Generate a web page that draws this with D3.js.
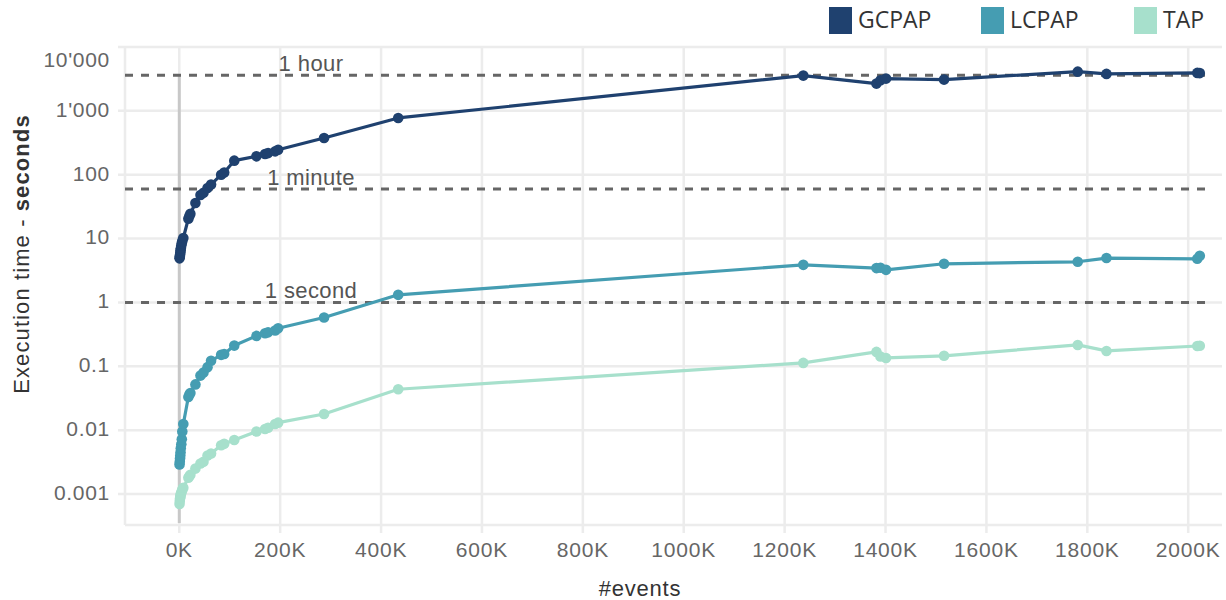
<!DOCTYPE html>
<html>
<head>
<meta charset="utf-8">
<script src="https://cdn.jsdelivr.net/npm/d3@7/dist/d3.min.js"></script>
<style>
  html, body { margin: 0; padding: 0; background: #ffffff; }
  svg { display: block; }
</style>
</head>
<body>
<svg id="chart" width="1226" height="600"></svg>
<script>
// Number of events per run (shared by all three algorithms)
const events = [500, 1000, 1500, 2000, 2500, 3000, 4000, 5000, 6000, 8000,
  18000, 20000, 22000, 32000, 42000, 48000, 56000, 63000, 83000, 89000,
  109000, 153000, 170000, 176000, 190000, 196000, 287000, 434000,
  1237000, 1382000, 1390000, 1401000, 1516000, 1781000, 1838000, 2018000, 2023000];

// Execution time in seconds
const gcpap = [4.9, 5.2, 5.6, 6.0, 6.5, 7.0, 7.8, 8.5, 9.2, 10.2,
  20.5, 22.5, 24.5, 36, 48, 52, 62, 70, 100, 108,
  166, 194, 211, 218, 232, 246, 376, 775,
  3565, 2670, 3010, 3200, 3085, 4110, 3790, 3930, 3900];

const lcpap = [0.0029, 0.0032, 0.0036, 0.0040, 0.0045, 0.0052, 0.006, 0.0072, 0.0095, 0.0125,
  0.033, 0.036, 0.038, 0.052, 0.0715, 0.08, 0.097, 0.122, 0.151, 0.156,
  0.211, 0.299, 0.33, 0.34, 0.363, 0.395, 0.58, 1.315,
  3.88, 3.45, 3.5, 3.24, 4.03, 4.33, 4.95, 4.82, 5.37];

const tap = [0.0007, 0.00078, 0.00085, 0.0009, 0.00095, 0.001, 0.00105, 0.0011, 0.00118, 0.00125,
  0.0018, 0.0019, 0.002, 0.0025, 0.003, 0.0032, 0.004, 0.0043, 0.0058, 0.0061,
  0.007, 0.0095, 0.0104, 0.0109, 0.0125, 0.0131, 0.0179, 0.0437,
  0.113, 0.168, 0.142, 0.135, 0.146, 0.216, 0.174, 0.208, 0.21];

const seriesNames = ["GCPAP", "LCPAP", "TAP"];
const seriesColors = ["#1f416f", "#459db2", "#a7e0cc"];

// Axis ticks
const xTicks = [0, 200000, 400000, 600000, 800000, 1000000, 1200000, 1400000, 1600000, 1800000, 2000000];
const yTicks = [0.001, 0.01, 0.1, 1, 10, 100, 1000, 10000];
const yTickLabels = ["0.001", "0.01", "0.1", "1", "10", "100", "1'000", "10'000"];

// Reference durations
const refValues = [3600, 60, 1];
const refLabels = ["1 hour", "1 minute", "1 second"];

const svg = d3.select("#chart");
const plotLeft = 125, plotRight = 1222, plotTop = 47, plotBottom = 525;
const font = "Liberation Sans, Arial, sans-serif";

const x = d3.scaleLinear().domain([-107600, 2067000]).range([plotLeft, plotRight]);
const y = d3.scaleLog().domain([0.000327, 10000]).range([plotBottom, plotTop]);

const grid = svg.append("g");
const gridColor = "#ececec";

// horizontal grid at each decade (extends a little left as a tick)
grid.selectAll("line.h").data(yTicks).join("line")
  .attr("x1", plotLeft - 7).attr("x2", plotRight)
  .attr("y1", d => y(d)).attr("y2", d => y(d))
  .attr("stroke", gridColor).attr("stroke-width", 2.5);

// vertical grid at each x tick (extends a little below as a tick)
grid.selectAll("line.v").data(xTicks).join("line")
  .attr("x1", d => x(d)).attr("x2", d => x(d))
  .attr("y1", plotTop).attr("y2", plotBottom + 8)
  .attr("stroke", gridColor).attr("stroke-width", 2.5);

// panel edges
grid.append("line").attr("x1", plotLeft).attr("x2", plotLeft).attr("y1", plotTop).attr("y2", plotBottom)
  .attr("stroke", gridColor).attr("stroke-width", 2.5);
grid.append("line").attr("x1", plotLeft).attr("x2", plotRight).attr("y1", plotBottom).attr("y2", plotBottom)
  .attr("stroke", gridColor).attr("stroke-width", 2.5);

// zero-events marker
svg.append("line")
  .attr("x1", x(0)).attr("x2", x(0))
  .attr("y1", y(3600)).attr("y2", plotBottom - 2)
  .attr("stroke", "#c8c8c8").attr("stroke-width", 3);

// tick labels (the top one is kept inside the panel)
svg.append("g").selectAll("text").data(yTicks).join("text")
  .attr("x", 110).attr("y", d => Math.max(y(d) - 1.5, plotTop + 13))
  .attr("dy", "0.35em")
  .attr("text-anchor", "end")
  .attr("font-family", font)
  .attr("font-size", 21)
  .attr("letter-spacing", 0.7)
  .attr("fill", "#666")
  .text((d, i) => yTickLabels[i]);

svg.append("g").selectAll("text").data(xTicks).join("text")
  .attr("x", d => x(d)).attr("y", 557)
  .attr("text-anchor", "middle")
  .attr("font-family", font)
  .attr("font-size", 21)
  .attr("letter-spacing", 0.8)
  .attr("fill", "#666")
  .text(d => d3.format("d")(d / 1000) + "K");

// axis titles
svg.append("text")
  .attr("x", 640).attr("y", 596)
  .attr("text-anchor", "middle")
  .attr("font-family", font)
  .attr("font-size", 22)
  .attr("letter-spacing", 0.8)
  .attr("fill", "#333")
  .text("#events");

const yTitle = svg.append("text")
  .attr("transform", "translate(29,254) rotate(-90)")
  .attr("text-anchor", "middle")
  .attr("font-family", font)
  .attr("font-size", 22)
  .attr("letter-spacing", 1.1)
  .attr("fill", "#333");
yTitle.append("tspan").text("Execution time - ");
yTitle.append("tspan").attr("font-weight", "bold").text("seconds");

// reference lines
svg.append("g").selectAll("line").data(refValues).join("line")
  .attr("x1", plotLeft).attr("x2", 1213)
  .attr("y1", d => y(d)).attr("y2", d => y(d))
  .attr("stroke", "#666").attr("stroke-width", 3)
  .attr("stroke-dasharray", "8,8");

svg.append("g").selectAll("text").data(refValues).join("text")
  .attr("x", 311).attr("y", d => y(d) - 4)
  .attr("text-anchor", "middle")
  .attr("font-family", font)
  .attr("font-size", 22)
  .attr("letter-spacing", 0.4)
  .attr("fill", "#555")
  .text((d, i) => refLabels[i]);

// series
const allSeries = [gcpap, lcpap, tap];
const line = d3.line().x(d => x(d[0])).y(d => y(d[1]));

allSeries.forEach((vals, i) => {
  const pts = events.map((e, j) => [e, vals[j]]);
  const g = svg.append("g");
  g.append("path").datum(pts)
    .attr("d", line)
    .attr("fill", "none")
    .attr("stroke", seriesColors[i])
    .attr("stroke-width", 3.2)
    .attr("stroke-linejoin", "round");
  g.selectAll("circle").data(pts).join("circle")
    .attr("cx", d => x(d[0])).attr("cy", d => y(d[1]))
    .attr("r", 5.3)
    .attr("fill", seriesColors[i]);
});

// legend
const legendX = [829, 981, 1134];
const legend = svg.append("g");
seriesNames.forEach((name, i) => {
  legend.append("rect")
    .attr("x", legendX[i]).attr("y", 7)
    .attr("width", 23).attr("height", 27)
    .attr("fill", seriesColors[i]);
  legend.append("text")
    .attr("x", legendX[i] + 29).attr("y", 28)
    .attr("font-family", "Open Sans, sans-serif")
    .attr("font-size", 23)
    .attr("fill", "#333")
    .text(name);
});
</script>
</body>
</html>
